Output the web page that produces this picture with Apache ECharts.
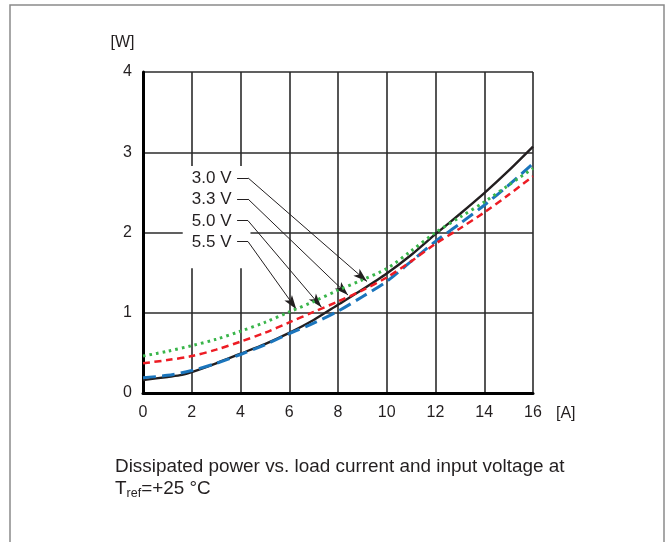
<!DOCTYPE html>
<html>
<head>
<meta charset="utf-8">
<script src="https://cdn.jsdelivr.net/npm/echarts@6/dist/echarts.min.js"></script>
<style>
html,body{margin:0;padding:0;background:#fff;}
#chart{width:670px;height:542px;}
</style>
</head>
<body>
<div id="chart"></div>
<script>
// ---- data ----
const currents = [0,1,2,3,4,5,6,7,8,9,10,11,12,13,14,15,16];
const currentsV30 = [0,1,1.6,2,3,4,5,6,7,8,9,10,11,12,13,14,15,16];
const powerV30 = [0.16,0.20,0.225,0.26,0.37,0.49,0.61,0.75,0.91,1.10,1.29,1.49,1.72,1.98,2.23,2.49,2.77,3.07];
const powerV33 = [0.19,0.22,0.28,0.37,0.48,0.60,0.74,0.87,1.02,1.20,1.39,1.64,1.89,2.11,2.34,2.59,2.86];
const powerV50 = [0.37,0.41,0.46,0.54,0.64,0.75,0.88,1.01,1.14,1.28,1.44,1.64,1.86,2.05,2.25,2.47,2.70];
const powerV55 = [0.46,0.52,0.59,0.67,0.77,0.88,1.01,1.14,1.28,1.41,1.55,1.77,2.00,2.19,2.38,2.59,2.80];
const seriesNames = ['3.0 V','3.3 V','5.0 V','5.5 V'];
const xTicks = [0,2,4,6,8,10,12,14,16];
const yTicks = [0,1,2,3,4];

function pairs(xs, ys){ return xs.map((x,i)=>[x, ys[i]]); }

// annotation anchors in data coordinates
const annot = {
  textRightX: 3.63,
  lineStartX: 3.86,
  elbowX: 4.31,
  levels: [2.68, 2.417, 2.147, 1.886],
  tips: [[9.19,1.39],[8.41,1.22],[7.32,1.07],[6.29,1.045]],
  box: [[1.63,2.83],[4.41,1.555]]
};

const FONT = '"Liberation Sans", Arial, Helvetica, sans-serif';
const INK = '#231f20';

function leader(i){
  const y = annot.levels[i];
  return [
    [{coord:[annot.lineStartX, y], symbol:'none'}, {coord:[annot.elbowX, y], symbol:'none'}],
    [{coord:[annot.elbowX, y], symbol:'none'}, {coord:annot.tips[i], symbol:'arrow', symbolSize:[7,14]}]
  ];
}
function markLineFor(i){
  return {
    silent: true,
    animation: false,
    symbol: ['none','none'],
    label: {show:false},
    lineStyle: {color: INK, width: 1, type: 'solid'},
    itemStyle: {color: INK},
    emphasis: {disabled: true},
    data: leader(i)
  };
}

const chart = echarts.init(document.getElementById('chart'), null, {renderer:'canvas'});
const option = {
  animation: false,
  backgroundColor: '#ffffff',
  textStyle: {fontFamily: FONT},
  grid: {left: 143, top: 72, width: 390, height: 321, containLabel: false},
  title: {
    left: 115, top: 456, padding: 0,
    text: 'Dissipated power vs. load current and input voltage at\nT{sub|ref}=+25 °C',
    textStyle: {
      fontFamily: FONT, fontSize: 18.9, fontWeight: 'normal', color: INK, lineHeight: 22,
      rich: {
        sub: {fontFamily: FONT, fontSize: 12.5, color: INK, verticalAlign: 'bottom', lineHeight: 12}
      }
    }
  },
  xAxis: {
    type: 'value', min: 0, max: 16, interval: 2,
    axisLine: {show: true, onZero: false, lineStyle: {color: '#000', width: 3}},
    axisTick: {show: false},
    splitLine: {show: true, lineStyle: {color: '#2b2b2b', width: 1.6}},
    axisLabel: {fontFamily: FONT, fontSize: 16, color: INK, margin: 12,
      formatter: v => xTicks.includes(v) ? String(v) : ''}
  },
  yAxis: {
    type: 'value', min: 0, max: 4, interval: 1,
    axisLine: {show: true, onZero: false, lineStyle: {color: '#000', width: 3}},
    axisTick: {show: false},
    splitLine: {show: true, lineStyle: {color: '#2b2b2b', width: 1.6}},
    axisLabel: {fontFamily: FONT, fontSize: 16, color: INK, margin: 11,
      formatter: v => yTicks.includes(v) ? String(v) : ''}
  },
  series: [
    {name: seriesNames[0], type: 'line', data: pairs(currentsV30, powerV30), showSymbol: false, smooth: 0.25, z: 3,
      lineStyle: {color: INK, width: 2.4, type: 'solid'}, markLine: markLineFor(0)},
    {name: seriesNames[1], type: 'line', data: pairs(currents, powerV33), showSymbol: false, smooth: 0.3, z: 4,
      lineStyle: {color: '#1b75bc', width: 3, type: [13,6]}, markLine: markLineFor(1)},
    {name: seriesNames[2], type: 'line', data: pairs(currents, powerV50), showSymbol: false, smooth: 0.3, z: 5,
      lineStyle: {color: '#ed1c24', width: 2.5, type: [7,4.5]}, markLine: markLineFor(2)},
    {name: seriesNames[3], type: 'line', data: pairs(currents, powerV55), showSymbol: false, smooth: 0.3, z: 6,
      lineStyle: {color: '#39b54a', width: 3, type: [2.6,4], cap: 'butt'}, markLine: markLineFor(3)}
  ]
};
chart.setOption(option);

// graphics placed from data coordinates
const p0 = chart.convertToPixel({gridIndex:0}, annot.box[0]);
const p1 = chart.convertToPixel({gridIndex:0}, annot.box[1]);
const graphics = [
  {type:'rect', z: 100, silent:true, shape:{x:10, y:5, width:654, height:560},
    style:{fill:null, stroke:'#8a8a8a', lineWidth:1.5}},
  {type:'rect', z: 1, silent:true, shape:{x:p0[0], y:p0[1], width:p1[0]-p0[0], height:p1[1]-p0[1]},
    style:{fill:'#ffffff'}},
  {type:'text', z: 10, silent:true, style:{text:'[W]', x:122.5, y:43, align:'center', verticalAlign:'middle',
    font:'16px ' + FONT, fill: INK}},
  {type:'text', z: 10, silent:true, style:{text:'[A]', x:556, y:413.5, align:'left', verticalAlign:'middle',
    font:'16px ' + FONT, fill: INK}}
];
seriesNames.forEach((n,i)=>{
  const p = chart.convertToPixel({gridIndex:0}, [annot.textRightX, annot.levels[i]]);
  graphics.push({type:'text', z: 10, silent:true, style:{text:n, x:p[0], y:p[1]+0.5, align:'right', verticalAlign:'middle',
    font:'17px ' + FONT, fill: INK}});
});
chart.setOption({graphic: graphics});
</script>
</body>
</html>
